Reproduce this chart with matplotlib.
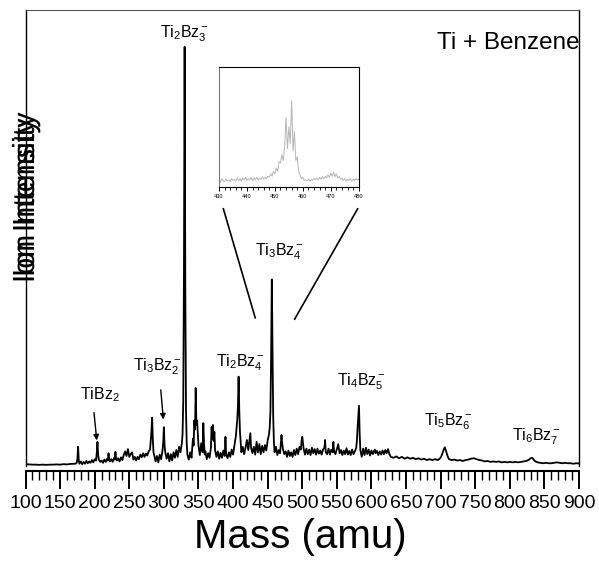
import numpy as np
import matplotlib
matplotlib.use("Agg")
import matplotlib.pyplot as plt
import matplotlib.patheffects as pe
from matplotlib.ticker import MultipleLocator

plt.rcParams['font.family'] = ['Liberation Sans', 'DejaVu Sans']
plt.rcParams['mathtext.fontset'] = 'custom'
plt.rcParams['mathtext.rm'] = 'Liberation Sans'
plt.rcParams['mathtext.it'] = 'Liberation Sans:italic'

# Ti + benzene anion mass spectrum, intensity in arbitrary units (0-100)
mass_a = [100, 105, 110, 115, 120, 125, 130, 135, 140, 145, 150, 155, 160, 165, 170]
int_a = [0.4, 0.35, 0.3, 0.3, 0.25, 0.3, 0.25, 0.3, 0.3, 0.35, 0.3, 0.4, 0.35, 0.45, 0.5]

mass_b = [172, 174, 175, 176, 177, 178,
          180, 182, 184, 186, 188, 190, 192, 194, 196, 198, 200,
          202, 203, 204, 205, 206,
          208, 210, 212, 214, 216, 218,
          219, 220, 221, 222,
          224, 226, 228,
          229, 230, 231, 232,
          234, 236, 238, 240,
          242, 244, 246, 248, 250, 252, 254, 256, 258, 260,
          262, 264, 266, 268, 270, 272, 274, 276, 278, 280,
          281, 282, 283, 284, 285, 286,
          288, 290, 292, 294, 296, 298,
          299, 300, 301, 302,
          304, 306, 308, 310, 312, 314, 316, 318, 320, 322, 324, 326]
int_b = [0.5, 0.7, 1.5, 4.2, 1.2, 0.5,
         1.0, 0.4, 0.9, 0.5, 1.1, 0.6, 1.0, 0.7, 1.3, 0.8, 1.5,
         1.2, 2.8, 5.3, 2.5, 1.4,
         0.9, 1.2, 0.7, 1.4, 0.9, 1.6,
         1.2, 2.8, 1.3, 1.0,
         1.5, 0.9, 1.8,
         1.4, 3.1, 1.5, 1.2,
         1.7, 1.0, 1.9, 1.3,
         2.4, 3.2, 2.2, 3.7, 2.0, 2.6, 3.0, 1.4, 2.0, 1.2,
         2.0, 1.5, 2.5, 1.9, 2.8, 2.0, 2.7, 2.3, 3.2, 3.6,
         5.5, 7.5, 10.6, 6.0, 3.0, 2.4,
         1.0, 2.2, 0.8, 2.5, 1.5, 3.4,
         5.0, 8.5, 4.5, 3.0,
         1.6, 2.8, 1.0, 2.6, 1.2, 3.0, 1.8, 3.5, 2.0, 4.2, 3.0, 5.0]

mass_c = [327, 328, 329, 330, 331, 332, 333, 334,
          336, 338, 340, 342,
          343, 344, 345, 346, 347, 348,
          350, 352, 354, 356,
          357, 358, 359, 360,
          362, 364, 366, 368,
          369, 370, 371, 372, 373, 374,
          376, 378, 380, 382, 384, 386, 388,
          389, 390,
          392, 394, 396, 398, 400, 402, 404, 406,
          407, 408, 409, 410,
          412, 414, 416, 418, 420, 422, 424,
          425, 426,
          428, 430, 432, 434, 436, 438, 440, 442, 444, 446, 448, 450, 452,
          453, 454]
int_c = [7.0, 14.0, 42.0, 91.9, 38.0, 12.0, 5.0, 2.5,
         1.4, 3.0, 1.8, 6.0,
         4.5, 10.0, 8.0, 17.1, 9.0, 10.0,
         4.5, 2.4, 5.0, 3.0,
         9.4, 5.0, 2.5, 3.2,
         1.5, 2.8, 1.8, 4.0,
         8.6, 6.0, 9.0, 5.5, 7.5, 3.5,
         2.0, 3.2, 1.6, 2.9, 1.8, 3.4, 2.2,
         6.4, 2.6,
         1.7, 3.0, 2.0, 3.6, 2.5, 4.5, 6.5, 10.0,
         13.0, 19.6, 12.0, 7.5,
         3.0, 4.2, 2.6, 4.0, 5.7, 3.5, 6.0,
         7.2, 4.0,
         2.8, 4.2, 2.5, 5.3, 3.0, 4.8, 2.6, 4.4, 3.0, 4.6, 3.4, 5.6, 7.0,
         8.5, 12.0]

mass_d = [455, 456, 457, 458, 459, 460,
          462, 464, 466, 468,
          469, 470, 471, 472,
          474, 476, 478, 480, 482, 484, 486, 488, 490, 492, 494, 496, 498,
          499, 500, 501, 502,
          504, 506, 508, 510, 512, 514, 516, 518, 520, 522, 524, 526, 528, 530, 532,
          533, 534,
          536, 538, 540, 542, 544,
          545, 546,
          548, 550, 552, 554, 556, 558, 560, 562, 564, 566, 568, 570, 572, 574, 576, 578,
          579, 580, 581, 582, 583, 584,
          586, 588, 590, 592, 594, 596, 598, 600]
int_d = [24.0, 40.9, 26.0, 11.0, 5.5, 3.0,
         4.2, 2.4, 3.5, 2.8,
         4.8, 6.8, 5.0, 3.8,
         2.6, 3.2, 2.0, 3.4, 2.2, 3.0, 2.0, 3.5, 2.4, 3.8, 2.6, 4.2, 3.6,
         5.5, 6.4, 5.0, 3.8,
         2.5, 3.8, 2.6, 3.6, 2.4, 4.0, 2.8, 3.7, 2.5, 3.8, 2.7, 3.4, 2.5, 3.6, 4.0,
         5.7, 3.0,
         2.6, 3.8, 2.5, 3.6, 3.0,
         5.3, 3.2,
         2.6, 3.7, 4.8, 2.8, 3.5, 2.4, 3.4, 2.6, 3.9, 2.5, 3.3, 2.4, 3.6, 2.6, 3.2, 4.0,
         5.5, 8.5, 11.0, 13.2, 7.0, 3.5,
         2.0, 3.8, 2.4, 4.0, 2.6, 3.6, 2.3, 3.4]

mass_e = [602, 604, 605, 606,
          608, 610, 612, 614, 616, 618, 620, 622, 624, 626, 628,
          632, 636, 640, 644, 648, 652, 656, 660, 664, 668, 672, 676, 680, 684, 688, 692, 696, 700,
          702, 704, 706, 708, 710, 712,
          716, 720, 724, 728, 732, 736, 740, 744, 748, 752, 756, 760, 764, 768, 772,
          776, 780, 784, 788, 792, 796, 800, 804, 808, 812, 816, 820, 824, 828,
          830, 832, 834, 836,
          840, 844, 848, 852, 856, 860, 864, 868, 872, 876, 880, 884, 888, 892, 896, 900]
int_e = [2.6, 3.4, 3.6, 2.8,
         3.3, 2.4, 3.2, 2.5, 3.4, 2.6, 3.5, 2.8, 3.7, 2.6, 2.0,
         1.8, 2.1, 1.7, 2.0, 1.6, 1.9, 1.6, 1.8, 1.5, 1.7, 1.4, 1.6, 1.3, 1.5, 1.3, 1.5, 1.3, 1.8,
         2.5, 3.4, 4.1, 3.2, 2.2, 1.5,
         1.3, 1.4, 1.2, 1.3, 1.1, 1.3, 1.4, 1.6, 1.7, 1.5, 1.3, 1.2, 1.0, 1.1, 0.9,
         1.0, 0.9, 1.0, 0.8, 0.9, 0.8, 0.9, 0.8, 0.9, 0.8, 0.9, 1.0, 1.1, 1.4,
         1.7, 1.8, 1.5, 1.1,
         0.8, 0.7, 0.6, 0.7, 0.6, 0.6, 0.7, 0.8, 0.7, 0.6, 0.7, 0.6, 0.6, 0.5, 0.6, 0.55]

mass = np.array(mass_a + mass_b + mass_c + mass_d + mass_e, dtype=float)
intensity = np.array(int_a + int_b + int_c + int_d + int_e)

# Zoomed Ti3Bz4- isotope pattern (normalised)
zoom_mass = np.arange(430, 480.5, 0.5)
zoom_int = [0.06, 0.04, 0.07, 0.05, 0.045, 0.065, 0.05, 0.06, 0.045, 0.07,
            0.055, 0.065, 0.05, 0.075, 0.055, 0.07, 0.05, 0.075, 0.06, 0.08,
            0.055, 0.07, 0.06, 0.08, 0.055, 0.075, 0.06, 0.08, 0.06, 0.075,
            0.065, 0.085, 0.065, 0.08, 0.07, 0.09, 0.08, 0.11, 0.09, 0.13,
            0.11, 0.16, 0.13, 0.21, 0.2, 0.27, 0.22, 0.34, 0.58, 0.32,
            0.5, 0.36, 0.72, 0.3, 0.46, 0.22, 0.25, 0.13, 0.1, 0.07,
            0.08, 0.055, 0.06, 0.05, 0.065, 0.05, 0.06, 0.055, 0.07, 0.06,
            0.075, 0.06, 0.08, 0.065, 0.085, 0.07, 0.09, 0.075, 0.1, 0.08,
            0.115, 0.09, 0.125, 0.085, 0.11, 0.075, 0.09, 0.065, 0.075, 0.055,
            0.07, 0.05, 0.065, 0.055, 0.07, 0.05, 0.065, 0.055, 0.07, 0.06,
            0.065]

# Cluster assignments: label, x position (amu), label bottom (intensity units)
peak_labels = [r'$\mathregular{TiBz_2}$', r'$\mathregular{Ti_3Bz_2^-}$',
               r'$\mathregular{Ti_2Bz_3^-}$', r'$\mathregular{Ti_2Bz_4^-}$',
               r'$\mathregular{Ti_3Bz_4^-}$', r'$\mathregular{Ti_4Bz_5^-}$',
               r'$\mathregular{Ti_5Bz_6^-}$', r'$\mathregular{Ti_6Bz_7^-}$']
label_x = [208, 291, 330, 410, 467, 586, 711, 839]
label_y = [13.6, 19.5, 92.5, 20.4, 44.7, 16.3, 7.5, 4.2]

# Arrows for the two small peaks: (tail, head)
arrows = [((199, 11.7), (203, 5.6)), ((295.5, 16.7), (299.3, 10.2))]

# Guide lines from the inset down to the Ti3Bz4- peak
guides = [((386, 56.4), (432, 32.5)), ((580, 56.4), (489, 32.2))]

fig = plt.figure(figsize=(5.99, 5.65), dpi=100)
ax = fig.add_axes([25.5 / 599, 99 / 565, 553.5 / 599, 456 / 565])
ax.plot(mass, intensity, color='black', lw=1.3)
ax.set_xlim(100, 900)
ax.set_ylim(0, 100)
ax.set_yticks([])

ax.spines['bottom'].set_position(('outward', 3.6))
ax.spines['bottom'].set_linewidth(1.5)
ax.spines['top'].set_color('#555555')
for s in ['left', 'right']:
    ax.spines[s].set_linewidth(1.0)

ax.xaxis.set_major_locator(MultipleLocator(50))
ax.xaxis.set_minor_locator(MultipleLocator(10))
ax.tick_params(axis='x', which='major', length=13, width=1.4, labelsize=14, pad=4)
ax.tick_params(axis='x', which='minor', length=6.7, width=1.0)

for txt, x, y in zip(peak_labels, label_x, label_y):
    ax.text(x, y, txt, ha='center', va='bottom', fontsize=11.5)

for tail, head in arrows:
    ax.annotate('', xy=head, xytext=tail,
                arrowprops=dict(arrowstyle='-|>', color='black', lw=1.0,
                                mutation_scale=8, shrinkA=0, shrinkB=0))

for p0, p1 in guides:
    ax.plot([p0[0], p1[0]], [p0[1], p1[1]], color='black', lw=1.2)

ax.text(901, 91.4, 'Ti + Benzene', ha='right', va='baseline', fontsize=17.5)

# axis titles; the y title carries a shifted double print
fig.text(300 / 599, 1 - 537 / 565, 'Mass (amu)', ha='center', va='center', fontsize=29)
fig.text(26 / 599, 1 - 201 / 565, 'Ion Intensity', rotation=90,
         ha='center', va='center', fontsize=22,
         path_effects=[pe.SimplePatchShadow(offset=(0, 4.3), shadow_rgbFace='black', alpha=1.0),
                       pe.Normal()])

# inset
axin = fig.add_axes([219 / 599, 1 - 187 / 565, 139.7 / 599, 120 / 565])
axin.plot(zoom_mass, zoom_int, color='#b5b5b5', lw=0.7)
axin.set_xlim(430, 480)
axin.set_ylim(0, 1)
axin.set_yticks([])
axin.xaxis.set_major_locator(MultipleLocator(10))
axin.xaxis.set_minor_locator(MultipleLocator(2))
axin.tick_params(axis='x', which='major', length=3, width=0.7, labelsize=4, pad=2)
axin.tick_params(axis='x', which='minor', length=2, width=0.6)
axin.spines['left'].set_color('#777777')
for s in axin.spines.values():
    s.set_linewidth(0.8)

fig.savefig('out.png', dpi=100)
